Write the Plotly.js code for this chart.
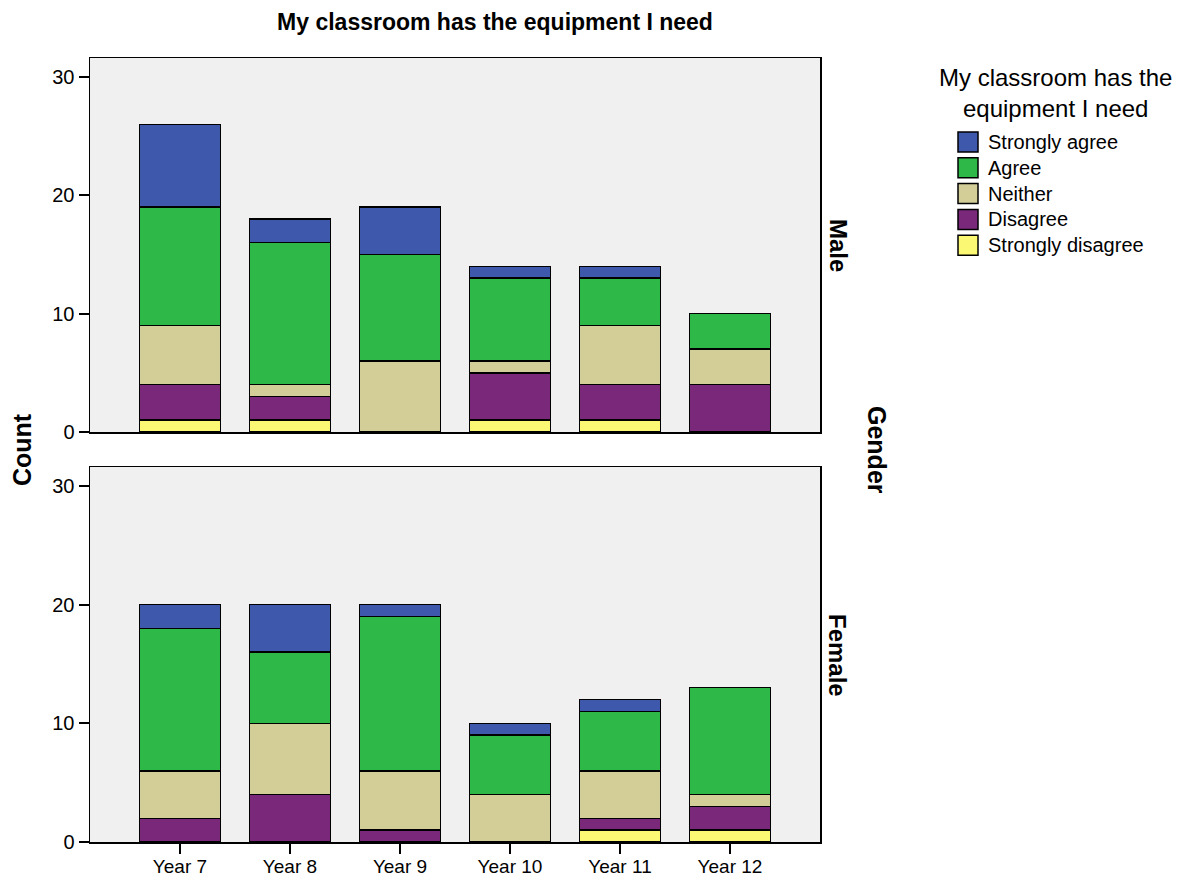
<!DOCTYPE html>
<html>
<head>
<meta charset="utf-8">
<script src="https://cdn.plot.ly/plotly-3.0.1.min.js"></script>
<style>html,body{margin:0;padding:0;background:#fff;}</style>
</head>
<body>
<div id="chart" style="width:1201px;height:877px;"></div>
<script>
const years = ["Year 7", "Year 8", "Year 9", "Year 10", "Year 11", "Year 12"];
const responses = ["Strongly disagree", "Disagree", "Neither", "Agree", "Strongly agree"];
const colors = ["#fbf873", "#79287a", "#d3ce97", "#2eb848", "#3e58ac"];
const legendTitleLines = ["My classroom has the", "equipment I need"];
const chartTitle = "My classroom has the equipment I need";
const panelLabels = ["Male", "Female"];

const maleStronglyDisagree = [1, 1, 0, 1, 1, 0];
const maleDisagree         = [3, 2, 0, 4, 3, 4];
const maleNeither          = [5, 1, 6, 1, 5, 3];
const maleAgree            = [10, 12, 9, 7, 4, 3];
const maleStronglyAgree    = [7, 2, 4, 1, 1, 0];

const femaleStronglyDisagree = [0, 0, 0, 0, 1, 1];
const femaleDisagree         = [2, 4, 1, 0, 1, 2];
const femaleNeither          = [4, 6, 5, 4, 4, 1];
const femaleAgree            = [12, 6, 13, 5, 5, 9];
const femaleStronglyAgree    = [2, 4, 1, 1, 1, 0];

const maleSeries = [maleStronglyDisagree, maleDisagree, maleNeither, maleAgree, maleStronglyAgree];
const femaleSeries = [femaleStronglyDisagree, femaleDisagree, femaleNeither, femaleAgree, femaleStronglyAgree];

const nz = arr => arr.map(v => (v === 0 ? null : v));

const traces = [];
responses.forEach((name, i) => {
  traces.push({
    type: "bar", x: years, y: nz(maleSeries[i]), name: name, legendgroup: name,
    xaxis: "x2", yaxis: "y2", showlegend: false, width: 0.74,
    marker: {color: colors[i], line: {color: "#000", width: 1.5}}
  });
  traces.push({
    type: "bar", x: years, y: nz(femaleSeries[i]), name: name, legendgroup: name,
    xaxis: "x", yaxis: "y", showlegend: false, width: 0.74,
    marker: {color: colors[i], line: {color: "#000", width: 1.5}}
  });
});

const W = 1201, H = 877;
const fontFam = "Liberation Sans, Arial, sans-serif";
const yBase = {
  range: [0, 31.6], tickvals: [0, 10, 20, 30], ticks: "outside", ticklen: 10, tickwidth: 2,
  tickcolor: "#000", showgrid: false, zeroline: false, showline: true, linecolor: "#000",
  linewidth: 1.5, mirror: true, tickfont: {size: 20, color: "#000", family: fontFam}
};
const xBase = {
  range: [-0.818, 5.818], showgrid: false, zeroline: false, showline: true, linecolor: "#000",
  linewidth: 1.5, mirror: true, tickfont: {size: 19, color: "#000", family: fontFam},
  ticks: "outside", ticklen: 10, tickwidth: 2, tickcolor: "#000"
};

// pixel -> paper helpers (layout positioning only)
const ml = 90, mr = 381, mt = 58, mb = 35;
const pw = W - ml - mr, ph = H - mt - mb;
const px = x => (x - ml) / pw;
const py = y => (H - mb - y) / ph;

const annotations = [
  {text: "<b>Count</b>", x: px(22), y: py(450), textangle: -90, size: 25},
  {text: "<b>Gender</b>", x: px(877), y: py(450), textangle: 90, size: 25},
  {text: "<b>" + panelLabels[0] + "</b>", x: px(838), y: py(245), textangle: 90, size: 24},
  {text: "<b>" + panelLabels[1] + "</b>", x: px(838), y: py(655), textangle: 90, size: 24},
  {text: legendTitleLines.join("<br>"), x: px(1055), y: py(93), textangle: 0, size: 24}
].map(a => ({
  text: a.text, xref: "paper", yref: "paper", x: a.x, y: a.y, xanchor: "center", yanchor: "middle",
  textangle: a.textangle, showarrow: false, font: {size: a.size, family: fontFam, color: "#000"}
}));

const shapes = [];
// legend entries, top to bottom: reversed stack order
const legendOrder = responses.map((r, i) => i).reverse();
legendOrder.forEach((ri, k) => {
  const cy = 142 + k * 25.8;
  shapes.push({
    type: "rect", xref: "paper", yref: "paper",
    x0: px(958), x1: px(978), y0: py(cy + 10), y1: py(cy - 10),
    fillcolor: colors[ri], line: {color: "#000", width: 1.5}
  });
  annotations.push({
    text: responses[ri], xref: "paper", yref: "paper", x: px(986), y: py(cy),
    xanchor: "left", yanchor: "middle", showarrow: false,
    font: {size: 20, family: fontFam, color: "#000"}
  });
});

const layout = {
  width: W, height: H,
  margin: {l: ml, r: mr, t: mt, b: mb},
  paper_bgcolor: "#fff", plot_bgcolor: "#f0f0f0",
  barmode: "stack",
  font: {family: fontFam, color: "#000"},
  title: {text: "<b>" + chartTitle + "</b>", x: 495 / W, xanchor: "center",
          y: 1 - 22 / H, yanchor: "middle", font: {size: 23, family: fontFam, color: "#000"}},
  xaxis: Object.assign({}, xBase, {anchor: "y", domain: [0, 1], ticklabelstandoff: -3}),
  xaxis2: Object.assign({}, xBase, {anchor: "y2", domain: [0, 1], matches: "x", showticklabels: false, ticks: ""}),
  yaxis: Object.assign({}, yBase, {domain: [0, py(467)], anchor: "x"}),
  yaxis2: Object.assign({}, yBase, {domain: [py(432), 1], anchor: "x2"}),
  showlegend: false,
  annotations: annotations,
  shapes: shapes
};

Plotly.newPlot("chart", traces, layout, {displayModeBar: false, staticPlot: true});
</script>
</body>
</html>
